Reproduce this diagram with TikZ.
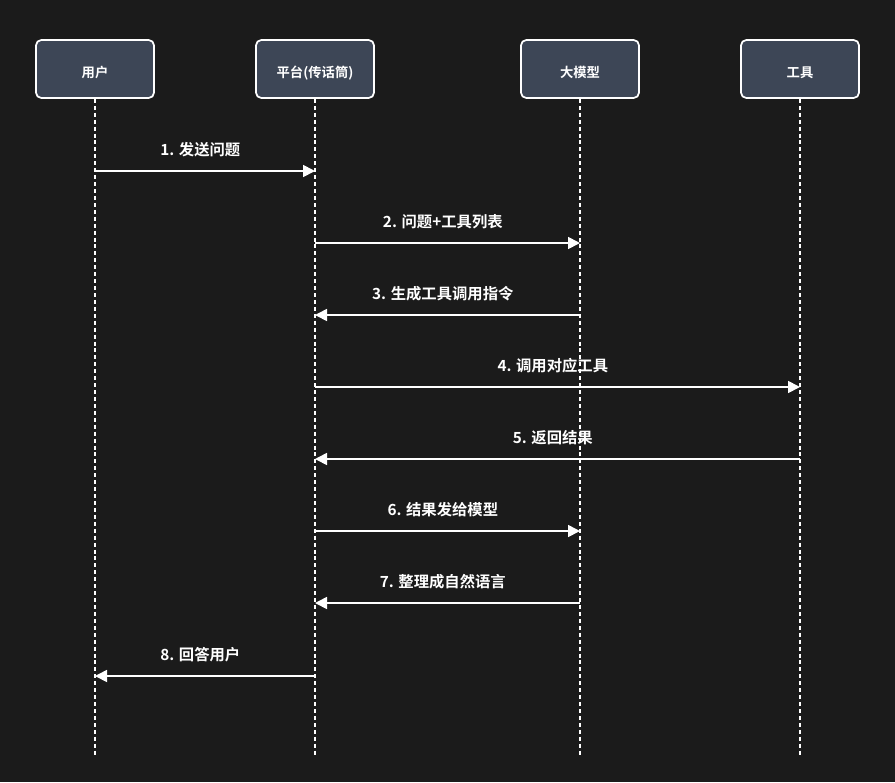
\documentclass[tikz,border=0pt]{standalone}
\usepackage{fontspec}
\setmainfont{Noto Sans CJK SC}[BoldFont={Noto Sans CJK SC Bold}]
\usetikzlibrary{arrows.meta}
\definecolor{bg}{HTML}{1B1B1B}
\definecolor{boxfill}{HTML}{3D4656}
\newcommand{\lowtxt}[1]{\raisebox{-2.5pt}[7pt][0pt]{#1}}
\begin{document}
\begin{tikzpicture}[x=0.75pt,y=-0.75pt,
  actor/.style={draw=white,line width=1.3pt,fill=boxfill,rounded corners=4pt,minimum width=88.5pt,minimum height=43.5pt,inner sep=0pt,text=white,font=\fontsize{10pt}{11pt}\selectfont\bfseries},
  lifeline/.style={draw=white,line width=1.3pt,dash pattern=on 3pt off 2.2pt},
  msg/.style={draw=white,line width=1.3pt,-{Triangle[length=9pt,width=9pt]}},
  lbl/.style={text=white,font=\fontsize{11.5pt}{13pt}\selectfont\bfseries,inner sep=0pt}]
\fill[bg] (0,0) rectangle (895,782);
\useasboundingbox (0,0) rectangle (895,782);
\node[actor] (u) at (95,69) {\lowtxt{用户}};
\node[actor] (p) at (315,69) {\lowtxt{平台(传话筒)}};
\node[actor] (m) at (580,69) {\lowtxt{大模型}};
\node[actor] (t) at (800,69) {\lowtxt{工具}};
\coordinate (ue) at (95,756);
\coordinate (pe) at (315,756);
\coordinate (me) at (580,756);
\coordinate (te) at (800,756);
\draw[lifeline] (u.south) -- (ue);
\draw[lifeline] (p.south) -- (pe);
\draw[lifeline] (m.south) -- (me);
\draw[lifeline] (t.south) -- (te);
\foreach \y/\a/\b/\t in {171/u/p/{1. 发送问题},243/p/m/{2. 问题+工具列表},315/m/p/{3. 生成工具调用指令},387/p/t/{4. 调用对应工具},459/t/p/{5. 返回结果},531/p/m/{6. 结果发给模型},603/m/p/{7. 整理成自然语言},676/p/u/{8. 回答用户}}{
  \coordinate (s) at (\a |- 0,\y);
  \coordinate (e) at (\b |- 0,\y);
  \draw[msg] (s) -- (e) node[lbl,midway,above=10pt,xshift=-3.5pt] {\t};
}
\end{tikzpicture}
\end{document}
